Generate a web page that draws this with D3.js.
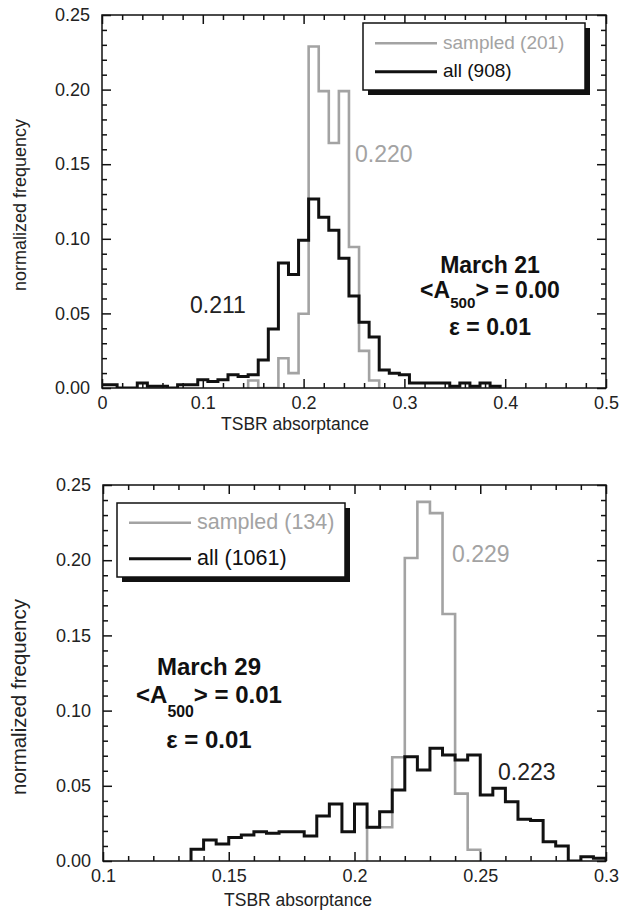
<!DOCTYPE html>
<html>
<head>
<meta charset="utf-8">
<script src="https://cdn.jsdelivr.net/npm/d3@7"></script>
<style>
  body { margin: 0; background: #fff; }
  svg { display: block; }
  text { font-family: "Liberation Sans", Arial, Helvetica, sans-serif; }
</style>
</head>
<body>
<svg id="fig" width="619" height="917"></svg>
<script>
// ---- March 21: bins of width 0.01 (left edges) ----
const march21Edges = [-0.005, 0.005, 0.015, 0.025, 0.035, 0.045, 0.055, 0.065, 0.075, 0.085,
  0.095, 0.105, 0.115, 0.125, 0.135, 0.145, 0.155, 0.165, 0.175, 0.185,
  0.195, 0.205, 0.215, 0.225, 0.235, 0.245, 0.255, 0.265, 0.275, 0.285,
  0.295, 0.305, 0.315, 0.325, 0.335, 0.345, 0.355, 0.365, 0.375, 0.385];
const march21All = [0.0022, 0.0022, 0, 0, 0.0033, 0.0011, 0.0011, 0, 0.0022, 0.0022,
  0.0055, 0.0044, 0.0055, 0.0088, 0.0077, 0.0088, 0.0187, 0.0396, 0.0837, 0.0760,
  0.0991, 0.1267, 0.1145, 0.1057, 0.0870, 0.0617, 0.0441, 0.0341, 0.0121, 0.0099,
  0.0088, 0.0033, 0.0033, 0.0033, 0.0033, 0.0011, 0.0033, 0.0011, 0.0033, 0.0011];
const march21SampledEdges = [0.145, 0.155, 0.165, 0.175, 0.185, 0.195, 0.205, 0.215, 0.225,
  0.235, 0.245, 0.255, 0.265];
const march21Sampled = [0.0050, 0, 0, 0.0199, 0.0100, 0.0498, 0.2289, 0.1990, 0.1642,
  0.1990, 0.0945, 0.0249, 0.0050];

// ---- March 29: bins of width 0.005 (left edges) ----
const march29Edges = [0.135, 0.140, 0.145, 0.150, 0.155, 0.160, 0.165, 0.170, 0.175, 0.180,
  0.185, 0.190, 0.195, 0.200, 0.205, 0.210, 0.215, 0.220, 0.225, 0.230,
  0.235, 0.240, 0.245, 0.250, 0.255, 0.260, 0.265, 0.270, 0.275, 0.280,
  0.285, 0.290, 0.295];
const march29All = [0.0078, 0.0140, 0.0113, 0.0157, 0.0173, 0.0195, 0.0184, 0.0195, 0.0195, 0.0166,
  0.0299, 0.0379, 0.0195, 0.0379, 0.0224, 0.0328, 0.0472, 0.0693, 0.0605, 0.0749,
  0.0705, 0.0672, 0.0705, 0.0439, 0.0483, 0.0394, 0.0277, 0.0270, 0.0128, 0.0100,
  0, 0.0028, 0.0019];
const march29SampledEdges = [0.205, 0.210, 0.215, 0.220, 0.225, 0.230, 0.235, 0.240, 0.245];
const march29Sampled = [0.0224, 0.0224, 0.0690, 0.2015, 0.2388, 0.2313, 0.1642, 0.0448, 0.0075];

// ---- axis ticks ----
const yTicks = [0, 0.05, 0.10, 0.15, 0.20, 0.25];
const yMinor = [0.01, 0.02, 0.03, 0.04, 0.06, 0.07, 0.08, 0.09, 0.11, 0.12, 0.13, 0.14,
  0.16, 0.17, 0.18, 0.19, 0.21, 0.22, 0.23, 0.24];
const xTicks21 = [0, 0.1, 0.2, 0.3, 0.4, 0.5];
const xMinor21 = [0.02, 0.04, 0.06, 0.08, 0.12, 0.14, 0.16, 0.18, 0.22, 0.24, 0.26, 0.28,
  0.32, 0.34, 0.36, 0.38, 0.42, 0.44, 0.46, 0.48];
const xTicks29 = [0.1, 0.15, 0.2, 0.25, 0.3];
const xMinor29 = [0.11, 0.12, 0.13, 0.14, 0.16, 0.17, 0.18, 0.19, 0.21, 0.22, 0.23, 0.24,
  0.26, 0.27, 0.28, 0.29];

const GRAY = "#a3a3a3";
const INK = "#111";
const svg = d3.select("#fig");

function stepPoints(edges, width, vals) {
  const pts = [[edges[0], 0]];
  edges.forEach((e, i) => { pts.push([e, vals[i]], [e + width, vals[i]]); });
  pts.push([edges[edges.length - 1] + width, 0]);
  return pts;
}

function drawPanel(cfg) {
  const g = svg.append("g");
  const x = d3.scaleLinear().domain(cfg.xDomain).range([cfg.left, cfg.right]);
  const y = d3.scaleLinear().domain([0, 0.25]).range([cfg.bottom, cfg.top]);

  svg.append("clipPath").attr("id", cfg.id + "-clip")
    .append("rect")
    .attr("x", cfg.left).attr("y", cfg.top - 2)
    .attr("width", cfg.right - cfg.left).attr("height", cfg.bottom - cfg.top + 2);

  const line = d3.line().x(d => x(d[0])).y(d => y(d[1]));
  const plot = g.append("g").attr("clip-path", `url(#${cfg.id}-clip)`);

  plot.append("path")
    .attr("d", line(stepPoints(cfg.sampledEdges, cfg.binWidth, cfg.sampled)))
    .attr("fill", "none").attr("stroke", GRAY).attr("stroke-width", 2.6);
  plot.append("path")
    .attr("d", line(stepPoints(cfg.allEdges, cfg.binWidth, cfg.all)))
    .attr("fill", "none").attr("stroke", INK).attr("stroke-width", 3);

  // frame
  g.append("rect")
    .attr("x", cfg.left).attr("y", cfg.top)
    .attr("width", cfg.right - cfg.left).attr("height", cfg.bottom - cfg.top)
    .attr("fill", "none").attr("stroke", INK).attr("stroke-width", 1.5);

  const fmt = d => String(+d.toFixed(2));
  const fmtY = d3.format(".2f");
  const style = sel => {
    sel.select(".domain").remove();
    sel.selectAll("line").attr("stroke", INK).attr("stroke-width", 1.5);
    sel.selectAll("text").attr("font-size", 18).attr("fill", "#222")
      .attr("font-family", '"Liberation Sans", Arial, sans-serif');
  };

  // bottom / top
  g.append("g").attr("transform", `translate(0,${cfg.bottom})`)
    .call(d3.axisBottom(x).tickValues(cfg.xTicks).tickSize(-9).tickPadding(8).tickFormat(fmt)).call(style);
  g.append("g").attr("transform", `translate(0,${cfg.bottom})`)
    .call(d3.axisBottom(x).tickValues(cfg.xMinor).tickSize(-5).tickFormat("")).call(style);
  g.append("g").attr("transform", `translate(0,${cfg.top})`)
    .call(d3.axisTop(x).tickValues(cfg.xTicks).tickSize(-9).tickFormat("")).call(style);
  g.append("g").attr("transform", `translate(0,${cfg.top})`)
    .call(d3.axisTop(x).tickValues(cfg.xMinor).tickSize(-5).tickFormat("")).call(style);
  // left / right
  g.append("g").attr("transform", `translate(${cfg.left},0)`)
    .call(d3.axisLeft(y).tickValues(yTicks).tickSize(-9).tickPadding(12).tickFormat(fmtY)).call(style);
  g.append("g").attr("transform", `translate(${cfg.left},0)`)
    .call(d3.axisLeft(y).tickValues(yMinor).tickSize(-5).tickFormat("")).call(style);
  g.append("g").attr("transform", `translate(${cfg.right},0)`)
    .call(d3.axisRight(y).tickValues(yTicks).tickSize(-9).tickFormat("")).call(style);
  g.append("g").attr("transform", `translate(${cfg.right},0)`)
    .call(d3.axisRight(y).tickValues(yMinor).tickSize(-5).tickFormat("")).call(style);

  // axis titles
  g.append("text")
    .attr("transform", `translate(${cfg.yTitle[0]},${cfg.yTitle[1]}) rotate(-90)`)
    .attr("text-anchor", "middle").attr("font-size", cfg.yTitle[2]).attr("fill", "#222")
    .text("normalized frequency");
  g.append("text")
    .attr("x", cfg.xTitle[0]).attr("y", cfg.xTitle[1])
    .attr("text-anchor", "middle").attr("font-size", cfg.xTitle[2]).attr("fill", "#222")
    .text("TSBR absorptance");

  // legend with drop shadow
  const L = cfg.legend;
  const lg = g.append("g");
  lg.append("rect").attr("x", L.x + 5).attr("y", L.y + 5).attr("width", L.w).attr("height", L.h).attr("fill", INK);
  lg.append("rect").attr("x", L.x).attr("y", L.y).attr("width", L.w).attr("height", L.h)
    .attr("fill", "#fff").attr("stroke", INK).attr("stroke-width", 1.5);
  const rows = [
    { label: `sampled (${cfg.nSampled})`, color: GRAY, sw: 2.6, y: L.row1 },
    { label: `all (${cfg.nAll})`, color: INK, sw: 3, y: L.row2 }
  ];
  rows.forEach(r => {
    lg.append("line").attr("x1", L.x + 12).attr("x2", L.x + 74).attr("y1", r.y).attr("y2", r.y)
      .attr("stroke", r.color).attr("stroke-width", r.sw);
    lg.append("text").attr("x", L.x + 80).attr("y", r.y + L.fs * 0.3)
      .attr("font-size", L.fs).attr("fill", r.color === INK ? "#111" : GRAY).text(r.label);
  });

  // mean value labels
  cfg.values.forEach(v => {
    g.append("text").attr("x", v.x).attr("y", v.y).attr("font-size", 23)
      .attr("fill", v.color).text(v.text);
  });

  // conditions block
  const A = cfg.note;
  const note = g.append("g").attr("font-weight", "bold").attr("fill", "#111").attr("text-anchor", "middle");
  note.append("text").attr("x", A.x).attr("y", A.y[0]).attr("font-size", A.fs).text(A.date);
  const t2 = note.append("text").attr("x", A.x).attr("y", A.y[1]).attr("font-size", A.fs);
  t2.append("tspan").text("<A");
  t2.append("tspan").attr("font-size", A.fs * 0.66).attr("dy", A.sub).text("500");
  t2.append("tspan").attr("dy", -A.sub).text(`> = ${A.a500}`);
  note.append("text").attr("x", A.x).attr("y", A.y[2]).attr("font-size", A.fs).text(`\u03b5 = ${A.eps}`);
}

drawPanel({
  id: "m21", left: 102, right: 606, top: 15, bottom: 388,
  xDomain: [0, 0.5], xTicks: xTicks21, xMinor: xMinor21, binWidth: 0.01,
  allEdges: march21Edges, all: march21All,
  sampledEdges: march21SampledEdges, sampled: march21Sampled,
  nSampled: 201, nAll: 908,
  yTitle: [26, 205, 18], xTitle: [295, 430, 17.5],
  legend: { x: 363, y: 23, w: 222, h: 67, row1: 43.3, row2: 71.7, fs: 19 },
  values: [
    { text: "0.220", x: 355, y: 162, color: GRAY },
    { text: "0.211", x: 190, y: 313, color: "#222" }
  ],
  note: { x: 490, y: [273, 298, 335], fs: 23, sub: 10, date: "March 21", a500: "0.00", eps: "0.01" }
});

drawPanel({
  id: "m29", left: 103, right: 606, top: 485, bottom: 861,
  xDomain: [0.1, 0.3], xTicks: xTicks29, xMinor: xMinor29, binWidth: 0.005,
  allEdges: march29Edges, all: march29All,
  sampledEdges: march29SampledEdges, sampled: march29Sampled,
  nSampled: 134, nAll: 1061,
  yTitle: [26, 697, 20.5], xTitle: [298, 906, 17.5],
  legend: { x: 117, y: 503, w: 228, h: 74, row1: 522.7, row2: 558.7, fs: 21.5 },
  values: [
    { text: "0.229", x: 452, y: 562, color: GRAY },
    { text: "0.223", x: 498, y: 780, color: "#222" }
  ],
  note: { x: 209, y: [675, 703, 748], fs: 24, sub: 14, date: "March 29", a500: "0.01", eps: "0.01" }
});
</script>
</body>
</html>
